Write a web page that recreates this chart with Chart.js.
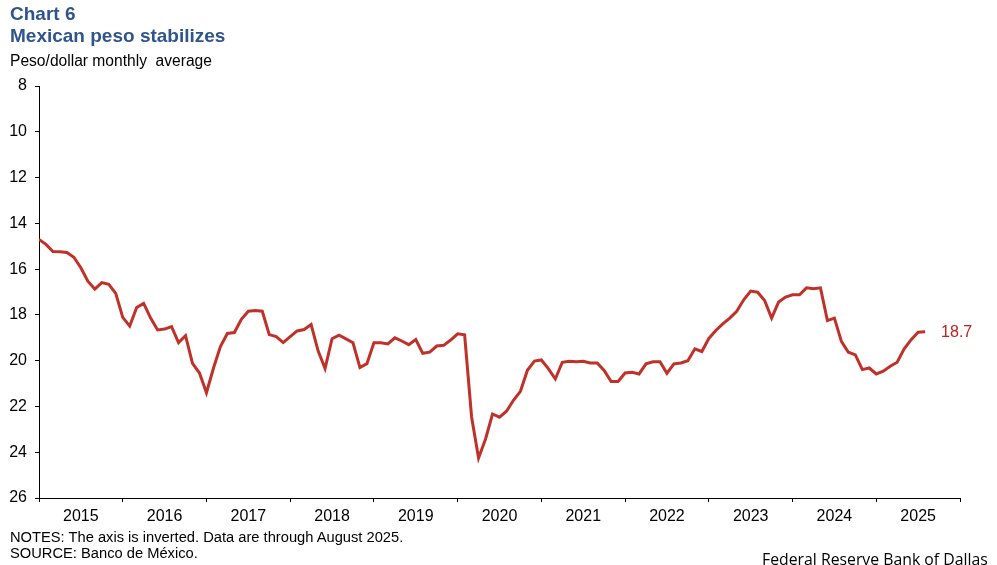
<!DOCTYPE html>
<html>
<head>
<meta charset="utf-8">
<script src="https://cdn.jsdelivr.net/npm/chart.js@4/dist/chart.umd.min.js"></script>
<style>
  body { margin: 0; background: #fff; font-family: "Liberation Sans", Arial, sans-serif; }
  .wrap { position: relative; width: 997px; height: 565px; overflow: hidden; }
  canvas { position: absolute; left: 0; top: 0; }
  .txt { position: absolute; white-space: pre; color: #000; }
  .title { left: 10px; font-size: 19px; font-weight: bold; color: #30558c; }
</style>
</head>
<body>
<div class="wrap">
  <canvas id="pesoChart" width="997" height="565"></canvas>
  <div class="txt title" style="top:3px;">Chart 6</div>
  <div class="txt title" style="top:25px;">Mexican peso stabilizes</div>
  <div class="txt" style="left:10px; top:52px; font-size:15.6px;">Peso/dollar monthly  average</div>
  <div class="txt" style="left:10px; top:529px; font-size:14.7px;">NOTES: The axis is inverted. Data are through August 2025.</div>
  <div class="txt" style="left:10px; top:545px; font-size:14.7px;">SOURCE: Banco de México.</div>
  <div class="txt" style="left:762px; top:548px; font-size:15.8px; font-family:'Open Sans', sans-serif;">Federal Reserve Bank of Dallas</div>
</div>
<script>
// Monthly average peso/dollar, Jan 2015 - Aug 2025
const years = ['2015', '2016', '2017', '2018', '2019', '2020', '2021', '2022', '2023', '2024', '2025'];
const yTicks = [8, 10, 12, 14, 16, 18, 20, 22, 24, 26];

const rate2015 = [14.70, 14.92, 15.23, 15.24, 15.27, 15.48, 15.94, 16.53, 16.87, 16.59, 16.66, 17.06];
const rate2016 = [18.11, 18.49, 17.68, 17.50, 18.14, 18.66, 18.62, 18.51, 19.21, 18.91, 20.12, 20.54];
const rate2017 = [21.40, 20.33, 19.38, 18.81, 18.77, 18.19, 17.84, 17.81, 17.84, 18.86, 18.95, 19.21];
const rate2018 = [18.95, 18.70, 18.64, 18.42, 19.57, 20.34, 19.04, 18.89, 19.05, 19.22, 20.30, 20.13];
const rate2019 = [19.22, 19.22, 19.27, 19.00, 19.14, 19.30, 19.08, 19.68, 19.63, 19.36, 19.33, 19.10];
const rate2020 = [18.83, 18.87, 22.46, 24.25, 23.42, 22.33, 22.47, 22.21, 21.73, 21.34, 20.42, 20.02];
const rate2021 = [19.97, 20.35, 20.80, 20.07, 20.03, 20.05, 20.03, 20.10, 20.10, 20.43, 20.91, 20.91];
const rate2022 = [20.54, 20.51, 20.58, 20.14, 20.05, 20.05, 20.55, 20.14, 20.10, 20.00, 19.48, 19.60];
const rate2023 = [19.03, 18.68, 18.39, 18.14, 17.84, 17.34, 16.96, 17.01, 17.37, 18.14, 17.44, 17.22];
const rate2024 = [17.12, 17.12, 16.82, 16.86, 16.82, 18.25, 18.14, 19.16, 19.63, 19.75, 20.39, 20.32];
const rate2025 = [20.58, 20.46, 20.24, 20.07, 19.48, 19.08, 18.76, 18.74];

const rates = [].concat(rate2015, rate2016, rate2017, rate2018, rate2019, rate2020,
                        rate2021, rate2022, rate2023, rate2024, rate2025);
const lastLabel = '18.7';

const lineColor = '#bf3129';
const axisFont = { family: '"Liberation Sans", Arial, sans-serif', size: 16 };

// Label at end of the line
const endLabel = {
    id: 'endLabel',
    afterDatasetsDraw(chart) {
        const meta = chart.getDatasetMeta(0);
        const pt = meta.data[meta.data.length - 1];
        const ctx = chart.ctx;
        ctx.save();
        ctx.font = '16px "Liberation Sans", Arial, sans-serif';
        ctx.fillStyle = '#c0201e';
        ctx.textBaseline = 'middle';
        ctx.fillText(lastLabel, pt.x + 16, pt.y + 1);
        ctx.restore();
    }
};

const ctx = document.getElementById('pesoChart').getContext('2d');
new Chart(ctx, {
    type: 'line',
    data: {
        datasets: [{
            data: rates.map((v, i) => ({ x: i, y: v })),
            borderColor: lineColor,
            borderWidth: 3,
            pointRadius: 0,
            tension: 0,
            fill: false
        }]
    },
    options: {
        responsive: false,
        animation: false,
        devicePixelRatio: 1,
        layout: { padding: { top: 86, right: 37, bottom: 0, left: 0 } },
        plugins: {
            legend: { display: false },
            tooltip: { enabled: false }
        },
        scales: {
            x: {
                type: 'linear',
                min: 0,
                max: years.length * 12,
                afterBuildTicks: scale => {
                    const t = [];
                    for (let v = 0; v <= years.length * 12; v += 6) t.push({ value: v });
                    scale.ticks = t;
                },
                afterFit: scale => { scale.height = 67; },
                ticks: {
                    autoSkip: false,
                    maxRotation: 0,
                    padding: 5,
                    color: '#000',
                    font: axisFont,
                    callback: v => (v % 12 === 6 ? years[(v - 6) / 12] : '')
                },
                grid: {
                    drawOnChartArea: false,
                    tickLength: 4,
                    color: c => (c.tick && c.tick.value % 12 === 0 ? '#000' : 'rgba(0,0,0,0)')
                },
                border: { color: '#000', width: 1 }
            },
            y: {
                reverse: true,
                min: 8,
                max: 26,
                afterBuildTicks: scale => { scale.ticks = yTicks.map(v => ({ value: v })); },
                afterFit: scale => { scale.width = 39; },
                ticks: { color: '#000', font: axisFont, padding: 8 },
                grid: { drawOnChartArea: false, tickLength: 4, color: '#000' },
                border: { color: '#000', width: 1 }
            }
        }
    },
    plugins: [endLabel]
});
</script>
</body>
</html>
